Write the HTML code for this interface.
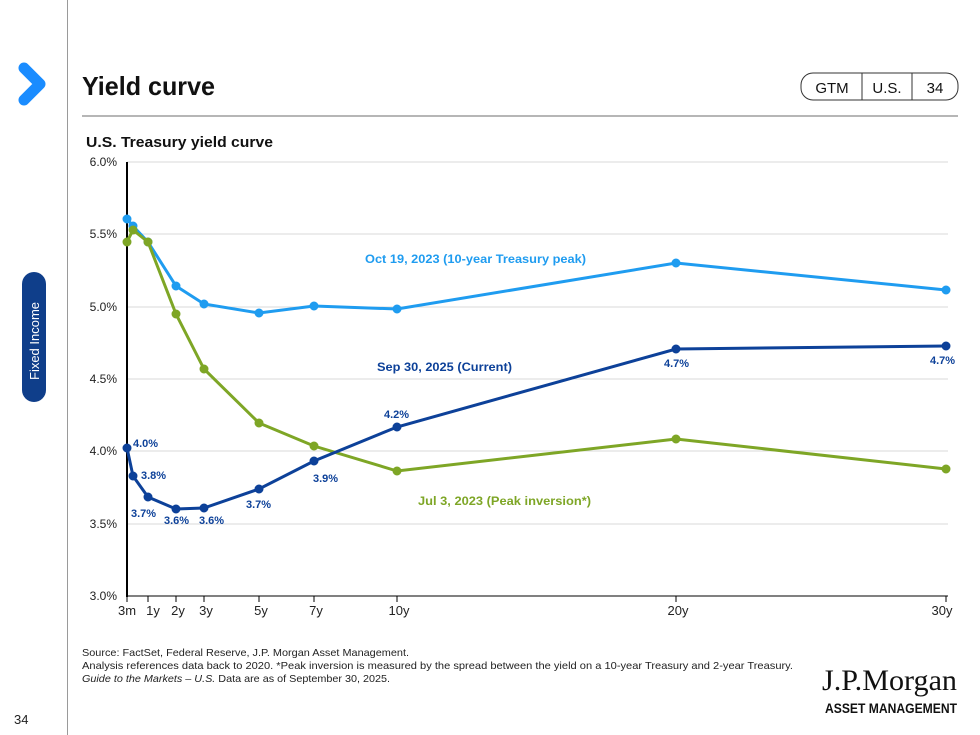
<!DOCTYPE html>
<html><head><meta charset="utf-8"><style>
body{margin:0;width:980px;height:735px;background:#fff;overflow:hidden;font-family:"Liberation Sans",Arial,sans-serif;position:relative}
.a{position:absolute}
</style></head><body>
<div class="a" style="left:67px;top:0;width:1px;height:735px;background:#9a9a9a"></div>
<svg class="a" style="left:0;top:0" width="980" height="735">
<polyline points="24,68 40,84 24,100" fill="none" stroke="#1a8cff" stroke-width="11" stroke-linejoin="round" stroke-linecap="round"/>
<rect x="22" y="272" width="24" height="130" rx="12" fill="#0f3e8a"/>
<text transform="translate(39,380) rotate(-90)" fill="#fff" font-size="13" font-family="Liberation Sans">Fixed Income</text>
<line x1="82" y1="116" x2="958" y2="116" stroke="#8a8a8a" stroke-width="1.2"/>
<rect x="801" y="73" width="157" height="27" rx="12" fill="none" stroke="#333" stroke-width="1"/>
<line x1="862" y1="73" x2="862" y2="100" stroke="#333"/>
<line x1="912" y1="73" x2="912" y2="100" stroke="#333"/>
<text x="832" y="93" font-size="15" text-anchor="middle" fill="#111">GTM</text>
<text x="887" y="93" font-size="15" text-anchor="middle" fill="#111">U.S.</text>
<text x="935" y="93" font-size="15" text-anchor="middle" fill="#111">34</text>
<text x="82" y="95" font-size="26" font-weight="bold" fill="#111" textLength="133" lengthAdjust="spacingAndGlyphs">Yield curve</text>
<text x="86" y="147" font-size="15" font-weight="bold" fill="#111" textLength="187" lengthAdjust="spacingAndGlyphs">U.S. Treasury yield curve</text>
<g stroke="#d9d9d9" stroke-width="1">
<line x1="127" y1="162" x2="948" y2="162"/><line x1="127" y1="234" x2="948" y2="234"/><line x1="127" y1="307" x2="948" y2="307"/><line x1="127" y1="379" x2="948" y2="379"/><line x1="127" y1="451" x2="948" y2="451"/><line x1="127" y1="524" x2="948" y2="524"/>
</g>
<line x1="127" y1="162" x2="127" y2="597" stroke="#000" stroke-width="2"/>
<line x1="126" y1="596" x2="948" y2="596" stroke="#000" stroke-width="1"/>
<g font-size="12" fill="#222" text-anchor="end">
<text x="117" y="166">6.0%</text><text x="117" y="238">5.5%</text><text x="117" y="311">5.0%</text><text x="117" y="383">4.5%</text><text x="117" y="455">4.0%</text><text x="117" y="528">3.5%</text><text x="117" y="600">3.0%</text>
</g>
<g stroke="#000"><line x1="127" y1="596" x2="127" y2="602"/><line x1="148" y1="596" x2="148" y2="602"/><line x1="176" y1="596" x2="176" y2="602"/><line x1="204" y1="596" x2="204" y2="602"/><line x1="259" y1="596" x2="259" y2="602"/><line x1="314" y1="596" x2="314" y2="602"/><line x1="397" y1="596" x2="397" y2="602"/><line x1="676" y1="596" x2="676" y2="602"/><line x1="946" y1="596" x2="946" y2="602"/></g>
<g font-size="13" fill="#222" text-anchor="middle">
<text x="127" y="615">3m</text><text x="153" y="615">1y</text><text x="178" y="615">2y</text><text x="206" y="615">3y</text><text x="261" y="615">5y</text><text x="316" y="615">7y</text><text x="399" y="615">10y</text><text x="678" y="615">20y</text><text x="942" y="615">30y</text>
</g>
<g fill="#1f9cf0" stroke="#1f9cf0">
<polyline fill="none" stroke-width="3" points="127,219 133,226 148,242 176,286 204,304 259,313 314,306 397,309 676,263 946,290"/>
<circle cx="127" cy="219" r="4"/><circle cx="133" cy="226" r="4"/><circle cx="148" cy="242" r="4"/><circle cx="176" cy="286" r="4"/><circle cx="204" cy="304" r="4"/><circle cx="259" cy="313" r="4"/><circle cx="314" cy="306" r="4"/><circle cx="397" cy="309" r="4"/><circle cx="676" cy="263" r="4"/><circle cx="946" cy="290" r="4"/>
</g>
<g fill="#7ea626" stroke="#7ea626">
<polyline fill="none" stroke-width="3" points="127,242 133,230 148,242 176,314 204,369 259,423 314,446 397,471 676,439 946,469"/>
<circle cx="127" cy="242" r="4"/><circle cx="133" cy="230" r="4"/><circle cx="148" cy="242" r="4"/><circle cx="176" cy="314" r="4"/><circle cx="204" cy="369" r="4"/><circle cx="259" cy="423" r="4"/><circle cx="314" cy="446" r="4"/><circle cx="397" cy="471" r="4"/><circle cx="676" cy="439" r="4"/><circle cx="946" cy="469" r="4"/>
</g>
<g fill="#0d4199" stroke="#0d4199">
<polyline fill="none" stroke-width="3" points="127,448 133,476 148,497 176,509 204,508 259,489 314,461 397,427 676,349 946,346"/>
<circle cx="127" cy="448" r="4"/><circle cx="133" cy="476" r="4"/><circle cx="148" cy="497" r="4"/><circle cx="176" cy="509" r="4"/><circle cx="204" cy="508" r="4"/><circle cx="259" cy="489" r="4"/><circle cx="314" cy="461" r="4"/><circle cx="397" cy="427" r="4"/><circle cx="676" cy="349" r="4"/><circle cx="946" cy="346" r="4"/>
</g>
<g font-size="11" font-weight="bold" fill="#0d4199">
<text x="133" y="447">4.0%</text><text x="141" y="479">3.8%</text><text x="131" y="517">3.7%</text><text x="164" y="524">3.6%</text><text x="199" y="524">3.6%</text><text x="246" y="508">3.7%</text><text x="313" y="482">3.9%</text><text x="384" y="418">4.2%</text><text x="664" y="367">4.7%</text><text x="930" y="364">4.7%</text>
</g>
<text x="365" y="263" font-size="12" font-weight="bold" fill="#1f9cf0" textLength="221" lengthAdjust="spacingAndGlyphs">Oct 19, 2023 (10-year Treasury peak)</text>
<text x="377" y="371" font-size="12" font-weight="bold" fill="#0d4199" textLength="135" lengthAdjust="spacingAndGlyphs">Sep 30, 2025 (Current)</text>
<text x="418" y="505" font-size="12" font-weight="bold" fill="#7ea626" textLength="173" lengthAdjust="spacingAndGlyphs">Jul 3, 2023 (Peak inversion*)</text>
<g font-size="10.5" fill="#222">
<text x="82" y="656" textLength="327" lengthAdjust="spacingAndGlyphs">Source: FactSet, Federal Reserve, J.P. Morgan Asset Management.</text>
<text x="82" y="669" textLength="711" lengthAdjust="spacingAndGlyphs">Analysis references data back to 2020. *Peak inversion is measured by the spread between the yield on a 10-year Treasury and 2-year Treasury.</text>
<text x="82" y="682" textLength="308" lengthAdjust="spacingAndGlyphs"><tspan font-style="italic">Guide to the Markets – U.S.</tspan> Data are as of September 30, 2025.</text>
</g>
<text x="822" y="690" font-size="30" font-family="Liberation Serif" fill="#111" textLength="135" lengthAdjust="spacingAndGlyphs">J.P.Morgan</text>
<text x="825" y="713" font-size="14" font-weight="bold" fill="#111" textLength="132" lengthAdjust="spacingAndGlyphs">ASSET MANAGEMENT</text>
<text x="14" y="724" font-size="13" fill="#222">34</text>
</svg>
</body></html>
